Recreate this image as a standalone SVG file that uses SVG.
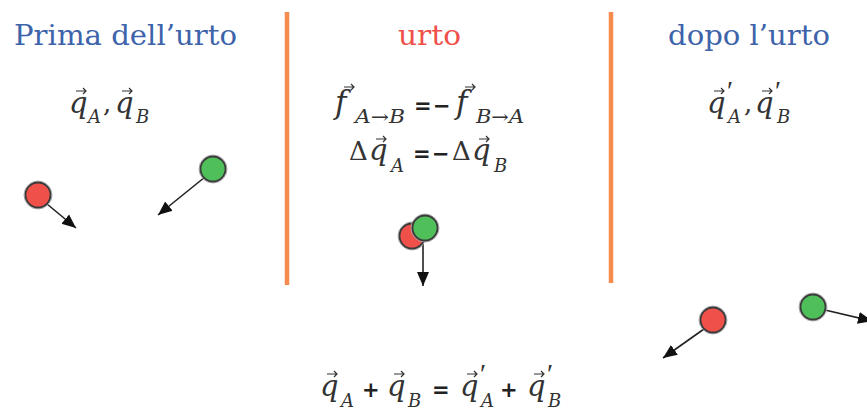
<svg xmlns="http://www.w3.org/2000/svg" width="867" height="411" viewBox="0 0 867 411">
<style>
.title{font-family:"DejaVu Serif","Liberation Serif",serif;font-size:27px}
.blue{fill:#3d63aa}
.red{fill:#f0504a}
.m{font-family:"DejaVu Serif","Liberation Serif",serif;font-style:italic;font-size:29px;fill:#333}
.f{font-family:"DejaVu Serif","Liberation Serif",serif;font-style:italic;font-size:31px;fill:#333}
.s{font-family:"DejaVu Serif","Liberation Serif",serif;font-style:italic;font-size:18px;fill:#333}
.pr{font-family:"Liberation Serif","DejaVu Serif",serif;font-size:28px;fill:#333}
.op{font-family:"DejaVu Sans","Liberation Sans",sans-serif;font-size:21px;font-weight:bold;fill:#222}
.up{font-family:"DejaVu Serif","Liberation Serif",serif;font-size:26px;fill:#333}
.sep{stroke:#f58b4c;stroke-width:4.5}
.halo{fill:none;stroke:#aaa;stroke-width:1}
.ballR{fill:#f0504a;stroke:#3a3a3a;stroke-width:1.8}
.ballG{fill:#4fbf5a;stroke:#3a3a3a;stroke-width:1.8}
.vel{stroke:#222;stroke-width:1.6;fill:none;marker-end:url(#ah)}
.acc{stroke:#333;stroke-width:1.2;fill:none}
</style>
<defs>
<marker id="ah" markerUnits="userSpaceOnUse" markerWidth="16" markerHeight="14" refX="14" refY="6" orient="auto" viewBox="0 0 16 12">
<path d="M0,0 L14,6 L0,12 z" fill="#111"/>
</marker>
<path id="vec" d="M0,0 h10 M7,-3 L10,0 L7,3" class="acc"/>
</defs>

<g id="separators">
<line class="sep" x1="287" y1="12" x2="287" y2="285"/>
<line class="sep" x1="611" y1="12" x2="611" y2="283"/>
</g>

<g id="title-prima">
<text class="title blue" x="14" y="45" textLength="223" lengthAdjust="spacingAndGlyphs">Prima dell’urto</text>
</g>
<g id="title-urto">
<text class="title red" x="398" y="45" textLength="63" lengthAdjust="spacingAndGlyphs">urto</text>
</g>
<g id="title-dopo">
<text class="title blue" x="668" y="45" textLength="162" lengthAdjust="spacingAndGlyphs">dopo l’urto</text>
</g>

<g id="eq-before">
<text class="m" x="69" y="113">q</text>
<use href="#vec" x="76" y="91"/>
<text class="s" x="88" y="123">A</text>
<text class="up" x="103" y="112" font-size="18">,</text>
<text class="m" x="115" y="113">q</text>
<use href="#vec" x="122" y="91"/>
<text class="s" x="136" y="123">B</text>
</g>

<g id="eq-force">
<text class="f" x="335" y="113">f</text>
<use href="#vec" x="344" y="87"/>
<text class="s" x="355" y="123" textLength="50" lengthAdjust="spacingAndGlyphs">A→B</text>
<text class="op" x="414" y="113">=</text>
<text class="op" x="433" y="113">−</text>
<text class="f" x="456" y="113">f</text>
<use href="#vec" x="465" y="87"/>
<text class="s" x="476" y="123" textLength="48" lengthAdjust="spacingAndGlyphs">B→A</text>
</g>

<g id="eq-delta">
<text class="up" x="349" y="160">Δ</text>
<text class="m" x="369" y="160">q</text>
<use href="#vec" x="376" y="139"/>
<text class="s" x="391" y="172">A</text>
<text class="op" x="413" y="161">=</text>
<text class="op" x="432" y="161">−</text>
<text class="up" x="452" y="160">Δ</text>
<text class="m" x="472" y="160">q</text>
<use href="#vec" x="479" y="139"/>
<text class="s" x="494" y="172">B</text>
</g>

<g id="eq-after">
<text class="m" x="707" y="113">q</text>
<use href="#vec" x="714" y="91"/>
<text class="pr" x="727" y="100">′</text>
<text class="s" x="728" y="123">A</text>
<text class="up" x="744" y="112" font-size="18">,</text>
<text class="m" x="755" y="113">q</text>
<use href="#vec" x="762" y="91"/>
<text class="pr" x="775" y="100">′</text>
<text class="s" x="777" y="123">B</text>
</g>

<g id="eq-conservation">
<text class="m" x="320" y="396">q</text>
<use href="#vec" x="327" y="374"/>
<text class="s" x="341" y="407">A</text>
<text class="op" x="362" y="397">+</text>
<text class="m" x="387" y="396">q</text>
<use href="#vec" x="394" y="374"/>
<text class="s" x="408" y="407">B</text>
<text class="op" x="432" y="397">=</text>
<text class="m" x="460" y="396">q</text>
<use href="#vec" x="467" y="374"/>
<text class="pr" x="480" y="383">′</text>
<text class="s" x="481" y="407">A</text>
<text class="op" x="500" y="397">+</text>
<text class="m" x="527" y="396">q</text>
<use href="#vec" x="534" y="374"/>
<text class="pr" x="547" y="383">′</text>
<text class="s" x="548" y="407">B</text>
</g>

<g id="connectors">
<line class="vel" x1="47" y1="204" x2="76" y2="228"/>
<line class="vel" x1="205" y1="177" x2="158" y2="215"/>
<line class="vel" x1="423" y1="238" x2="423" y2="286"/>
<line class="vel" x1="704" y1="329" x2="663" y2="358"/>
<line class="vel" x1="825" y1="310" x2="872" y2="321"/>
</g>

<g id="ball-A-before"><circle class="halo" cx="38" cy="195" r="14"/><circle class="ballR" cx="38" cy="195" r="12.5"/></g>
<g id="ball-B-before"><circle class="halo" cx="213" cy="169" r="14"/><circle class="ballG" cx="213" cy="169" r="12.5"/></g>
<g id="ball-A-collision"><circle class="halo" cx="412" cy="236" r="14"/><circle class="ballR" cx="412" cy="236" r="12.5"/></g>
<g id="ball-B-collision"><circle class="halo" cx="425" cy="228" r="14"/><circle class="ballG" cx="425" cy="228" r="12.5"/></g>
<g id="ball-A-after"><circle class="halo" cx="713" cy="320" r="14"/><circle class="ballR" cx="713" cy="320" r="12.5"/></g>
<g id="ball-B-after"><circle class="halo" cx="813" cy="307" r="14"/><circle class="ballG" cx="813" cy="307" r="12.5"/></g>
</svg>
